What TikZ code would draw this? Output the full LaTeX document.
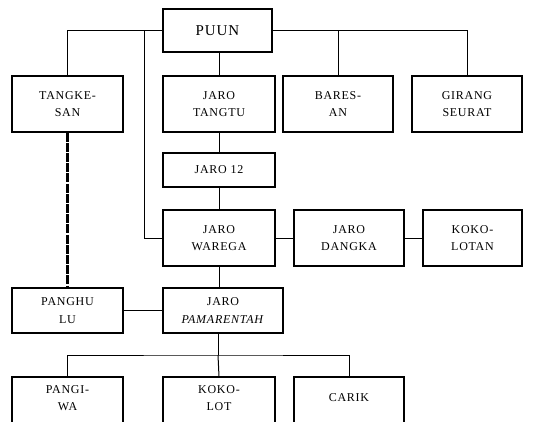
\documentclass[tikz,border=0pt]{standalone}
\usepackage{fontspec}
\setmainfont{Liberation Serif}[LetterSpace=6]
\begin{document}
\begin{tikzpicture}[x=1pt,y=-1pt,line width=1pt,
  box/.style={draw,rectangle,inner sep=0pt,align=center,font=\fontsize{12}{17.5}\selectfont,line width=1.1pt},
  conn/.style={line width=1pt},
  thickdash/.style={line width=3pt,dash pattern=on 9pt off 1.2pt}]
\useasboundingbox (0,0) rectangle (540,421);
\node[box,minimum width=109pt,minimum height=43pt,font=\fontsize{15}{17}\selectfont] (puun) at (217.5,30.5) {PUUN};
\node[box,minimum width=111pt,minimum height=56pt] (tangkesan) at (67.5,104) {TANGKE-\\SAN};
\node[box,minimum width=112pt,minimum height=56pt] (tangtu) at (219,104) {JARO\\TANGTU};
\node[box,minimum width=110pt,minimum height=56pt] (baresan) at (338,104) {BARES-\\AN};
\node[box,minimum width=110pt,minimum height=56pt] (girang) at (467,104) {GIRANG\\SEURAT};
\node[box,minimum width=112pt,minimum height=34pt] (jaro12) at (219,170) {JARO 12};
\node[box,minimum width=112pt,minimum height=56pt] (warega) at (219,238) {JARO\\WAREGA};
\node[box,minimum width=110pt,minimum height=56pt] (dangka) at (349,238) {JARO\\DANGKA};
\node[box,minimum width=99pt,minimum height=56pt] (kokolotan) at (472.5,238) {KOKO-\\LOTAN};
\node[box,minimum width=111pt,minimum height=45pt] (panghulu) at (67.5,310.5) {PANGHU\\LU};
\node[box,minimum width=120pt,minimum height=45pt] (pam) at (223,310.5) {JARO\\\textit{PAMARENTAH}};
\node[box,minimum width=111pt,minimum height=56pt,text depth=14pt] (pangiwa) at (67.5,405) {PANGI-\\WA};
\node[box,minimum width=112pt,minimum height=56pt,text depth=14pt] (kokolot) at (219,405) {KOKO-\\LOT};
\node[box,minimum width=110pt,minimum height=56pt,text depth=14pt] (carik) at (349,405) {CARIK};
\coordinate (j1) at (144,31);
\coordinate (b) at (218,355);
\draw[conn] (puun.west) -| (tangkesan.north);
\draw[conn] (j1) |- (warega.west);
\draw[conn] (puun.east) -| (girang.north);
\draw[conn] (baresan.north) -- (baresan.north |- puun.east);
\draw[conn] (tangtu.north |- puun.south) -- (tangtu.north);
\draw[conn] (tangtu.south) -- (jaro12.north);
\draw[conn] (jaro12.south) -- (warega.north);
\draw[conn] (warega.east) -- (dangka.west);
\draw[conn] (dangka.east) -- (kokolotan.west);
\draw[conn] (warega.south) -- (warega.south |- pam.north);
\draw[conn] (panghulu.east) -- (pam.west);
\draw[conn] (b |- pam.south) -- (b);
\draw[conn] (pangiwa.north) |- (b) -| (carik.north);
\draw[conn] (b) -- (kokolot.north);
\draw[thickdash] (tangkesan.south) -- (panghulu.north);
\end{tikzpicture}
\end{document}
